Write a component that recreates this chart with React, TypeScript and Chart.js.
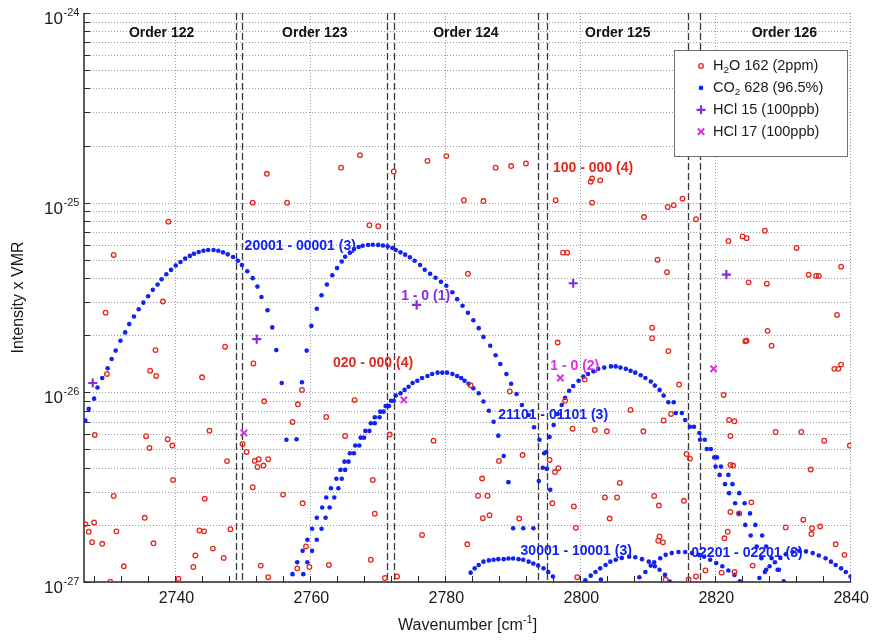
import React, { useEffect, useRef } from "react";
import { Chart, registerables } from "chart.js";

Chart.register(...registerables);

const FONT = '"Liberation Sans", Arial, Helvetica, sans-serif';
const RED = "#e4281e";
const BLUE = "#1222f2";
const PURPLE = "#8a2be2";
const MAGENTA = "#d92ee8";

// ---------- axis definitions ----------
const X_MIN = 2726.3;
const X_MAX = 2840;
const xMajorTicks = [2740, 2760, 2780, 2800, 2820, 2840];
const xMinorTicks = [2728, 2732, 2736, 2744, 2748, 2752, 2756, 2764, 2768, 2772, 2776, 2784, 2788, 2792, 2796, 2804, 2808, 2812, 2816, 2824, 2828, 2832, 2836];
const yDecadeExponents = [-27, -26, -25, -24];
const yMantissas = [1, 2, 3, 4, 5, 6, 7, 8, 9];

// ---------- H2O 162 (2 ppm) ----------
const h2oLines: [number, number][] = [
  [2753.4, 1.42e-25], [2751.3, 1.0e-25], [2756.4, 1.0e-25], [2738.8, 7.94e-26], [2730.7, 5.3e-26],
  [2738.0, 3.01e-26], [2729.5, 2.63e-26], [2736.9, 1.67e-26], [2747.2, 1.74e-26], [2764.4, 1.53e-25],
  [2767.2, 1.78e-25], [2772.2, 1.46e-25], [2777.2, 1.66e-25], [2780.0, 1.76e-25], [2787.3, 1.53e-25],
  [2789.6, 1.56e-25], [2791.8, 1.61e-25], [2782.6, 1.03e-25], [2785.5, 1.02e-25], [2768.6, 7.6e-26],
  [2769.9, 7.51e-26], [2783.2, 4.22e-26], [2796.2, 1.03e-25], [2801.4, 1.29e-25], [2801.6, 1.34e-25],
  [2801.6, 1.0e-25], [2797.3, 5.45e-26], [2797.9, 5.45e-26], [2796.5, 1.83e-26],
  [2802.8, 1.31e-25], [2815.0, 1.05e-25], [2813.7, 9.69e-26], [2812.8, 9.49e-26], [2809.3, 8.4e-26],
  [2817.0, 8.18e-26], [2827.2, 7.11e-26], [2823.9, 6.64e-26], [2824.5, 6.5e-26], [2821.8, 6.28e-26],
  [2831.9, 5.77e-26], [2811.3, 5.0e-26], [2838.5, 4.6e-26], [2812.7, 4.3e-26], [2833.7, 4.17e-26],
  [2834.8, 4.11e-26], [2835.2, 4.11e-26], [2824.8, 3.8e-26], [2827.5, 3.74e-26], [2837.9, 2.56e-26],
  [2810.5, 2.19e-26], [2810.5, 1.93e-26], [2827.6, 2.11e-26], [2824.3, 1.86e-26], [2824.5, 1.87e-26],
  [2828.2, 1.76e-26], [2812.9, 1.65e-26],
  [2736.1, 1.3e-26], [2737.0, 1.22e-26], [2729.7, 1.25e-26], [2743.8, 1.2e-26], [2751.4, 1.42e-26],
  [2753.0, 8.97e-27], [2758.6, 1.03e-26], [2758.0, 8.65e-27], [2762.2, 7.42e-27], [2757.2, 6.98e-27],
  [2727.9, 5.96e-27], [2735.5, 5.87e-27], [2738.7, 5.66e-27], [2736.0, 5.09e-27], [2739.4, 5.24e-27],
  [2744.9, 6.28e-27], [2749.8, 5.34e-27], [2750.4, 4.85e-27], [2751.6, 4.35e-27], [2752.2, 4.44e-27],
  [2752.0, 4.04e-27], [2752.9, 4.11e-27], [2753.6, 4.44e-27], [2747.5, 4.34e-27], [2739.5, 3.45e-27],
  [2751.3, 3.16e-27], [2755.8, 2.89e-27], [2758.7, 2.6e-27], [2730.7, 2.84e-27], [2744.2, 2.75e-27],
  [2726.5, 2.02e-27], [2727.8, 2.06e-27], [2735.3, 2.18e-27], [2727.0, 1.84e-27], [2731.1, 1.85e-27],
  [2743.4, 1.87e-27], [2744.1, 1.85e-27], [2748.0, 1.9e-27], [2727.5, 1.62e-27], [2729.0, 1.59e-27],
  [2736.6, 1.6e-27], [2745.4, 1.5e-27], [2742.8, 1.38e-27], [2747.0, 1.34e-27], [2759.2, 1.54e-27],
  [2732.2, 1.21e-27], [2742.5, 1.2e-27], [2752.5, 1.22e-27], [2757.9, 1.18e-27], [2759.7, 1.2e-27],
  [2762.6, 1.23e-27], [2753.6, 1.06e-27], [2740.3, 1.04e-27], [2730.2, 1.005e-27],
  [2766.4, 9.1e-27], [2765.0, 5.89e-27], [2771.6, 5.99e-27], [2778.1, 5.56e-27], [2769.1, 3.45e-27],
  [2769.4, 2.29e-27], [2776.4, 1.77e-27], [2768.8, 1.31e-27], [2770.9, 1.05e-27], [2772.7, 1.07e-27],
  [2783.6, 1.09e-26], [2789.4, 1.01e-26], [2787.8, 4.35e-27], [2791.3, 4.67e-27], [2785.3, 3.51e-27],
  [2784.7, 2.85e-27], [2786.1, 2.85e-27], [2785.4, 2.17e-27], [2786.4, 2.25e-27], [2790.8, 2.16e-27],
  [2783.1, 1.58e-27], [2800.5, 1.17e-26], [2797.6, 9.03e-27], [2798.7, 6.43e-27], [2802.0, 6.33e-27],
  [2795.3, 4.4e-27], [2796.6, 3.98e-27], [2796.1, 3.8e-27], [2795.7, 2.6e-27], [2798.9, 2.5e-27],
  [2799.2, 1.93e-27], [2799.4, 1.06e-27],
  [2814.5, 1.1e-26], [2807.3, 8.08e-27], [2813.3, 7.69e-27], [2812.2, 7.11e-27], [2803.8, 6.23e-27],
  [2809.2, 6.23e-27], [2821.1, 9.69e-27], [2821.9, 7.15e-27], [2822.7, 7.04e-27], [2822.1, 5.89e-27],
  [2828.8, 6.18e-27], [2832.6, 6.18e-27], [2836.0, 5.56e-27], [2839.8, 5.24e-27], [2815.6, 4.73e-27],
  [2816.1, 4.47e-27], [2822.1, 4.14e-27], [2822.5, 4.11e-27], [2834.0, 3.92e-27], [2805.7, 3.33e-27],
  [2803.5, 2.79e-27], [2805.3, 2.79e-27], [2810.8, 2.84e-27], [2811.5, 2.53e-27], [2815.2, 2.68e-27],
  [2825.2, 2.63e-27], [2822.1, 2.34e-27], [2823.4, 2.3e-27], [2804.2, 2.16e-27], [2832.9, 2.13e-27],
  [2834.2, 1.92e-27], [2835.4, 1.96e-27], [2830.3, 1.94e-27], [2821.7, 1.84e-27], [2821.2, 1.7e-27],
  [2834.1, 1.79e-27], [2811.6, 1.74e-27], [2811.4, 1.65e-27], [2812.1, 1.62e-27], [2837.7, 1.58e-27],
  [2839.0, 1.39e-27], [2818.4, 1.15e-27], [2822.7, 1.13e-27], [2817.0, 1.07e-27], [2812.5, 1.03e-27],
  [2815.9, 1.03e-27], [2837.5, 1.33e-26], [2838.1, 1.33e-26], [2838.5, 1.4e-26], [2825.4, 1.22e-27],
  [2820.8, 1.12e-27],
];

// ---------- CO2 628 (96.5 %) bands ----------
const co2Band20001P: [number, number][] = [
  [2726.5, 7.1e-27], [2727.0, 8.18e-27], [2727.8, 9.26e-27], [2728.3, 1.06e-26], [2729.0, 1.19e-26],
  [2729.8, 1.34e-26], [2730.4, 1.5e-26], [2731.0, 1.66e-26], [2731.7, 1.87e-26], [2732.4, 2.07e-26],
  [2733.0, 2.29e-26], [2733.7, 2.51e-26], [2734.4, 2.74e-26], [2735.1, 2.97e-26], [2735.8, 3.21e-26],
  [2736.5, 3.47e-26], [2737.2, 3.7e-26], [2737.8, 3.95e-26], [2738.5, 4.19e-26], [2739.2, 4.42e-26],
  [2739.9, 4.66e-26], [2740.6, 4.87e-26], [2741.3, 5.07e-26], [2742.0, 5.24e-26], [2742.6, 5.38e-26],
  [2743.3, 5.49e-26], [2744.0, 5.58e-26], [2744.7, 5.63e-26], [2745.5, 5.63e-26], [2746.2, 5.58e-26],
  [2746.9, 5.47e-26], [2747.6, 5.34e-26], [2748.4, 5.17e-26], [2749.1, 4.94e-26], [2749.7, 4.69e-26],
  [2750.5, 4.35e-26], [2751.3, 4.0e-26], [2752.0, 3.61e-26], [2752.6, 3.18e-26], [2753.5, 2.71e-26],
  [2754.2, 2.2e-26], [2754.8, 1.67e-26], [2755.6, 1.12e-26], [2756.3, 5.62e-27], [2757.2, 1.1e-27],
];
const co2Band20001R: [number, number][] = [
  [2757.8, 5.66e-27], [2758.6, 1.13e-26], [2759.3, 1.66e-26], [2760.0, 2.24e-26], [2760.8, 2.76e-26],
  [2761.5, 3.25e-26], [2762.3, 3.7e-26], [2763.1, 4.14e-26], [2763.8, 4.52e-26], [2764.5, 4.9e-26],
  [2765.0, 5.19e-26], [2765.7, 5.45e-26], [2766.3, 5.69e-26], [2767.0, 5.84e-26], [2767.6, 5.93e-26],
  [2768.4, 5.98e-26], [2769.1, 6.0e-26], [2769.9, 5.99e-26], [2770.6, 5.95e-26], [2771.3, 5.88e-26],
  [2772.0, 5.77e-26], [2772.5, 5.63e-26], [2773.2, 5.47e-26], [2773.9, 5.32e-26], [2774.6, 5.15e-26],
  [2775.3, 4.94e-26], [2776.1, 4.69e-26], [2776.8, 4.43e-26], [2777.6, 4.22e-26], [2778.4, 4.02e-26],
  [2779.2, 3.83e-26], [2780.0, 3.65e-26], [2780.9, 3.37e-26], [2781.6, 3.1e-26], [2782.4, 2.86e-26],
  [2783.2, 2.63e-26], [2784.0, 2.4e-26], [2784.8, 2.18e-26], [2785.5, 1.96e-26], [2786.5, 1.76e-26],
  [2787.3, 1.57e-26], [2788.0, 1.41e-26], [2788.9, 1.25e-26], [2789.6, 1.11e-26], [2790.4, 9.8e-27],
  [2791.2, 8.58e-27], [2792.2, 7.6e-27], [2793.0, 6.54e-27], [2793.8, 5.62e-27], [2794.5, 4.77e-27],
  [2794.9, 3.95e-27], [2795.4, 3.06e-27],
];
const co2Band020a: [number, number][] = [
  [2757.9, 1.27e-27], [2758.7, 1.46e-27], [2759.4, 1.67e-27], [2760.1, 1.91e-27], [2760.8, 2.18e-27],
  [2761.6, 2.47e-27], [2762.2, 2.79e-27], [2762.9, 3.12e-27], [2763.7, 3.5e-27], [2764.3, 3.9e-27],
  [2764.9, 4.31e-27], [2765.7, 4.77e-27], [2766.5, 5.24e-27], [2767.3, 5.77e-27], [2768.0, 6.26e-27],
  [2768.8, 6.87e-27], [2769.4, 7.39e-27], [2770.2, 7.91e-27], [2771.0, 8.46e-27], [2771.8, 9.03e-27],
];
const co2Band020b: [number, number][] = [
  [2758.8, 1.1e-27], [2759.4, 1.27e-27], [2760.1, 1.46e-27], [2760.8, 1.67e-27], [2761.5, 1.91e-27],
  [2762.1, 2.18e-27], [2762.7, 2.47e-27], [2763.4, 2.79e-27], [2764.0, 3.12e-27], [2764.5, 3.5e-27],
  [2765.0, 3.9e-27], [2765.5, 4.31e-27], [2766.3, 4.77e-27], [2767.1, 5.24e-27], [2767.8, 5.77e-27],
  [2768.6, 6.26e-27], [2769.4, 6.87e-27], [2770.1, 7.39e-27], [2770.7, 7.91e-27], [2771.5, 8.46e-27],
  [2772.2, 9.03e-27],
];
const co2Band020c: [number, number][] = [
  [2772.5, 9.61e-27], [2773.2, 9.89e-27], [2773.8, 1.03e-26], [2774.4, 1.07e-26], [2775.0, 1.12e-26],
  [2775.7, 1.15e-26], [2776.4, 1.19e-26], [2777.2, 1.22e-26], [2777.9, 1.25e-26], [2778.7, 1.27e-26],
  [2779.4, 1.27e-26], [2780.1, 1.27e-26], [2780.9, 1.25e-26], [2781.6, 1.22e-26], [2782.2, 1.19e-26],
  [2782.7, 1.15e-26], [2783.3, 1.11e-26], [2784.0, 1.05e-26], [2784.8, 9.89e-27], [2785.5, 8.94e-27],
  [2786.3, 8.0e-27], [2787.0, 7.0e-27], [2787.7, 5.91e-27], [2788.5, 4.62e-27], [2789.2, 3.36e-27],
  [2789.9, 1.92e-27], [2791.4, 1.92e-27], [2792.9, 1.92e-27], [2793.7, 3.41e-27],
];
const co2Band21101: [number, number][] = [
  [2794.3, 4.0e-27], [2794.8, 4.85e-27], [2795.3, 5.82e-27], [2795.9, 6.72e-27], [2796.5, 7.69e-27],
  [2797.1, 8.58e-27], [2797.6, 9.35e-27], [2798.2, 1.02e-26], [2798.8, 1.08e-26], [2799.6, 1.15e-26],
  [2800.3, 1.21e-26], [2801.0, 1.25e-26], [2801.8, 1.29e-26], [2802.5, 1.33e-26], [2803.4, 1.35e-26],
  [2804.4, 1.37e-26], [2805.1, 1.37e-26], [2805.8, 1.35e-26], [2806.6, 1.33e-26], [2807.3, 1.3e-26],
  [2808.0, 1.27e-26], [2808.8, 1.23e-26], [2809.5, 1.19e-26], [2810.3, 1.14e-26], [2810.9, 1.085e-26],
  [2811.6, 1.03e-26], [2812.2, 9.61e-27],
  [2812.9, 8.86e-27], [2813.7, 8.86e-27], [2814.0, 7.78e-27], [2814.9, 7.78e-27], [2815.4, 7.15e-27],
  [2816.1, 6.59e-27], [2816.7, 6.59e-27], [2817.5, 6.1e-27], [2817.6, 5.62e-27], [2818.3, 5.62e-27],
  [2818.6, 5.03e-27], [2819.2, 5.03e-27], [2819.7, 4.54e-27], [2820.1, 4.54e-27], [2819.9, 4.06e-27],
  [2820.7, 4.06e-27], [2820.5, 3.67e-27], [2821.8, 3.67e-27], [2821.3, 3.28e-27], [2822.4, 3.28e-27],
  [2821.9, 2.94e-27], [2823.4, 2.94e-27], [2822.8, 2.6e-27], [2824.2, 2.6e-27], [2823.3, 2.3e-27],
  [2825.0, 2.3e-27], [2824.3, 2.0e-27], [2825.8, 2.0e-27], [2825.1, 1.76e-27], [2826.8, 1.76e-27],
  [2826.0, 1.54e-27], [2827.4, 1.54e-27], [2826.7, 1.335e-27], [2828.2, 1.335e-27], [2827.4, 1.16e-27],
  [2829.1, 1.16e-27],
];
const co2Band30001: [number, number][] = [
  [2783.6, 1.12e-27], [2784.2, 1.18e-27], [2784.8, 1.23e-27], [2785.5, 1.28e-27], [2786.3, 1.3e-27],
  [2787.0, 1.31e-27], [2787.7, 1.32e-27], [2788.5, 1.32e-27], [2789.2, 1.33e-27], [2789.9, 1.33e-27],
  [2790.7, 1.32e-27], [2791.4, 1.31e-27], [2792.2, 1.28e-27], [2792.9, 1.25e-27], [2793.6, 1.22e-27],
  [2794.4, 1.18e-27], [2795.1, 1.13e-27], [2795.8, 1.07e-27],
];
const co2Band02201: [number, number][] = [
  [2800.6, 1.02e-27], [2801.4, 1.08e-27], [2802.1, 1.13e-27], [2802.8, 1.18e-27], [2803.6, 1.23e-27],
  [2804.3, 1.28e-27], [2805.1, 1.31e-27], [2806.0, 1.34e-27], [2807.1, 1.36e-27], [2808.0, 1.35e-27],
  [2809.0, 1.32e-27], [2810.0, 1.28e-27], [2810.9, 1.21e-27], [2811.6, 1.16e-27], [2812.4, 1.09e-27],
  [2813.1, 1.005e-27], [2802.9, 1.03e-27],
  [2808.6, 1.06e-27], [2809.5, 1.13e-27], [2810.3, 1.22e-27], [2810.8, 1.27e-27], [2811.7, 1.335e-27],
  [2812.5, 1.39e-27], [2813.4, 1.42e-27], [2814.4, 1.44e-27], [2815.4, 1.44e-27], [2816.4, 1.42e-27],
  [2817.4, 1.39e-27], [2818.2, 1.36e-27], [2819.1, 1.31e-27], [2820.0, 1.26e-27], [2820.9, 1.21e-27],
  [2821.8, 1.15e-27], [2822.7, 1.09e-27], [2823.5, 1.01e-27],
  [2826.4, 1.05e-27], [2827.2, 1.13e-27], [2827.9, 1.21e-27], [2828.7, 1.27e-27], [2829.5, 1.34e-27],
  [2830.3, 1.4e-27], [2831.3, 1.44e-27], [2832.3, 1.46e-27], [2833.3, 1.45e-27], [2834.3, 1.42e-27],
  [2835.2, 1.38e-27], [2836.2, 1.335e-27], [2837.0, 1.28e-27], [2837.7, 1.23e-27], [2838.5, 1.18e-27],
  [2839.2, 1.13e-27], [2839.9, 1.07e-27], [2829.3, 1.16e-27], [2830.0, 1.01e-27],
];

// ---------- HCl ----------
const hcl15Lines: [number, number][] = [
  [2727.6, 1.12e-26], [2751.9, 1.91e-26], [2775.6, 2.89e-26], [2798.8, 3.76e-26], [2821.5, 4.17e-26],
];
const hcl17Lines: [number, number][] = [
  [2750.0, 6.11e-27], [2773.7, 9.12e-27], [2796.9, 1.19e-26], [2819.6, 1.33e-26],
];

// ---------- echelle orders ----------
const orderBoundaries: [number, number][] = [
  [2748.8, 2749.75], [2771.2, 2772.3], [2793.6, 2794.95], [2815.8, 2817.6],
];
const orderNames = ["Order 122", "Order 123", "Order 124", "Order 125", "Order 126"];
const orderCenters = [2737.8, 2760.5, 2782.9, 2805.4, 2830.1];

// ---------- band annotations ----------
const bandLabels = ["20001 - 00001 (3)", "1 - 0 (1)", "020 - 000 (4)", "21101 - 01101 (3)", "1 - 0 (2)", "100 - 000 (4)", "30001 - 10001 (3)", "02201 - 02201 (3)"];
const bandLabelWn = [2750.1, 2773.3, 2763.2, 2787.7, 2795.4, 2795.8, 2791.0, 2816.3];
const bandLabelVal = [5.91e-26, 3.2e-26, 1.42e-26, 7.6e-27, 1.38e-26, 1.52e-25, 1.45e-27, 1.42e-27];
const bandLabelColors = [BLUE, PURPLE, RED, BLUE, MAGENTA, RED, BLUE, BLUE];

const toXY = (arr: [number, number][]) => arr.map(([x, y]) => ({ x, y }));

const yTickValues: number[] = [];
yDecadeExponents.forEach((e) => {
  yMantissas.forEach((m) => {
    if (e < -24 || m === 1) yTickValues.push(m * Math.pow(10, e));
  });
});

function drawLegendMarker(ctx: CanvasRenderingContext2D, kind: string, x: number, y: number) {
  ctx.save();
  if (kind === "h2o") {
    ctx.strokeStyle = RED; ctx.lineWidth = 1.3;
    ctx.beginPath(); ctx.arc(x, y, 2.3, 0, Math.PI * 2); ctx.stroke();
  } else if (kind === "co2") {
    ctx.fillStyle = BLUE;
    ctx.beginPath(); ctx.arc(x, y, 2.3, 0, Math.PI * 2); ctx.fill();
  } else if (kind === "hcl15") {
    ctx.strokeStyle = PURPLE; ctx.lineWidth = 2.2;
    ctx.beginPath(); ctx.moveTo(x - 4.5, y); ctx.lineTo(x + 4.5, y); ctx.moveTo(x, y - 4.5); ctx.lineTo(x, y + 4.5); ctx.stroke();
  } else {
    ctx.strokeStyle = MAGENTA; ctx.lineWidth = 2;
    const r = 3.2;
    ctx.beginPath(); ctx.moveTo(x - r, y - r); ctx.lineTo(x + r, y + r); ctx.moveTo(x - r, y + r); ctx.lineTo(x + r, y - r); ctx.stroke();
  }
  ctx.restore();
}

function drawSubText(ctx: CanvasRenderingContext2D, parts: [string, boolean][], x: number, y: number, size: number) {
  let cx = x;
  parts.forEach(([t, sub]) => {
    ctx.font = `${sub ? size * 0.68 : size}px ${FONT}`;
    ctx.fillText(t, cx, sub ? y + 4 : y);
    cx += ctx.measureText(t).width;
  });
}

const decorPlugin = {
  id: "decor",
  beforeDatasetsDraw(chart: any) {
    const { ctx, chartArea: a } = chart;
    const xs = chart.scales.x;
    const ys = chart.scales.y;
    ctx.save();
    // dotted grid
    ctx.strokeStyle = "#9b9b9b";
    ctx.lineWidth = 1;
    ctx.setLineDash([1, 2]);
    ctx.beginPath();
    yTickValues.forEach((v) => {
      const py = Math.round(ys.getPixelForValue(v)) + 0.5;
      ctx.moveTo(a.left, py); ctx.lineTo(a.right, py);
    });
    xMajorTicks.forEach((v) => {
      const px = Math.round(xs.getPixelForValue(v)) - 0.5;
      ctx.moveTo(px, a.top); ctx.lineTo(px, a.bottom);
    });
    ctx.stroke();
    // order boundaries
    ctx.setLineDash([7, 3]);
    ctx.strokeStyle = "#3a3a3a";
    ctx.lineWidth = 1.3;
    ctx.beginPath();
    orderBoundaries.forEach((pair) => pair.forEach((v) => {
      const px = Math.round(xs.getPixelForValue(v)) + 0.5;
      ctx.moveTo(px, a.top); ctx.lineTo(px, a.bottom);
    }));
    ctx.stroke();
    // axes
    ctx.setLineDash([]);
    ctx.strokeStyle = "#2a2a2a";
    ctx.lineWidth = 1.5;
    ctx.beginPath();
    ctx.moveTo(a.left, a.top); ctx.lineTo(a.left, a.bottom); ctx.lineTo(a.right, a.bottom);
    ctx.stroke();
    // inward tick marks
    ctx.lineWidth = 1;
    ctx.beginPath();
    [...xMajorTicks, ...xMinorTicks].forEach((v) => {
      const px = Math.round(xs.getPixelForValue(v)) - 0.5;
      ctx.moveTo(px, a.bottom); ctx.lineTo(px, a.bottom - 6);
    });
    yTickValues.forEach((v) => {
      const py = Math.round(ys.getPixelForValue(v)) + 0.5;
      ctx.moveTo(a.left, py); ctx.lineTo(a.left + 6, py);
    });
    ctx.stroke();
    ctx.restore();
  },
  afterDatasetsDraw(chart: any) {
    const { ctx, chartArea: a } = chart;
    const xs = chart.scales.x;
    const ys = chart.scales.y;
    ctx.save();
    // order names
    ctx.fillStyle = "#111";
    ctx.font = `bold 14px ${FONT}`;
    ctx.textAlign = "center";
    ctx.textBaseline = "middle";
    orderNames.forEach((t, i) => ctx.fillText(t, xs.getPixelForValue(orderCenters[i]), a.top + 20));
    // band labels
    ctx.textAlign = "left";
    ctx.font = `bold 14px ${FONT}`;
    bandLabels.forEach((t, i) => {
      ctx.fillStyle = bandLabelColors[i];
      ctx.fillText(t, xs.getPixelForValue(bandLabelWn[i]), ys.getPixelForValue(bandLabelVal[i]));
    });
    // legend
    const lx = 674, ly = 50, lw = 173, lh = 106;
    ctx.fillStyle = "#fff";
    ctx.fillRect(lx, ly, lw, lh);
    ctx.strokeStyle = "#6f6f6f";
    ctx.lineWidth = 1;
    ctx.strokeRect(lx + 0.5, ly + 0.5, lw, lh);
    const rows: { kind: string; parts: [string, boolean][] }[] = [
      { kind: "h2o", parts: [["H", false], ["2", true], ["O 162 (2ppm)", false]] },
      { kind: "co2", parts: [["CO", false], ["2", true], [" 628 (96.5%)", false]] },
      { kind: "hcl15", parts: [["HCl 15 (100ppb)", false]] },
      { kind: "hcl17", parts: [["HCl 17 (100ppb)", false]] },
    ];
    ctx.textBaseline = "middle";
    ctx.textAlign = "left";
    rows.forEach((r, i) => {
      const ry = ly + 16 + i * 21.9;
      drawLegendMarker(ctx, r.kind, lx + 27, ry);
      ctx.fillStyle = "#1a1a1a";
      drawSubText(ctx, r.parts, lx + 39, ry, 14.5);
    });
    // y decade labels
    ctx.fillStyle = "#1a1a1a";
    ctx.textBaseline = "alphabetic";
    yDecadeExponents.forEach((e) => {
      const py = ys.getPixelForValue(Math.pow(10, e));
      ctx.font = `17px ${FONT}`;
      ctx.textAlign = "right";
      ctx.fillText("10", 63, py + 11);
      ctx.font = `11px ${FONT}`;
      ctx.textAlign = "left";
      ctx.fillText(String(e), 63.5, py + 3);
    });
    // axis titles
    ctx.font = `16px ${FONT}`;
    ctx.textAlign = "left";
    const main = "Wavenumber [cm";
    ctx.font = `16px ${FONT}`;
    const w1 = ctx.measureText(main).width;
    ctx.font = `11px ${FONT}`;
    const w2 = ctx.measureText("-1").width;
    ctx.font = `16px ${FONT}`;
    const w3 = ctx.measureText("]").width;
    const total = w1 + w2 + w3;
    const cx = (a.left + a.right) / 2 - total / 2;
    const ty = 630;
    ctx.fillText(main, cx, ty);
    ctx.font = `11px ${FONT}`;
    ctx.fillText("-1", cx + w1, ty - 7);
    ctx.font = `16px ${FONT}`;
    ctx.fillText("]", cx + w1 + w2, ty);
    ctx.save();
    ctx.translate(23, (a.top + a.bottom) / 2);
    ctx.rotate(-Math.PI / 2);
    ctx.textAlign = "center";
    ctx.fillText("Intensity x VMR", 0, 0);
    ctx.restore();
    ctx.restore();
  },
};

export default function App() {
  const ref = useRef<HTMLCanvasElement>(null);
  useEffect(() => {
    document.body.style.margin = "0";
    const co2All = [
      ...co2Band20001P, ...co2Band20001R, ...co2Band020a, ...co2Band020b, ...co2Band020c,
      ...co2Band21101, ...co2Band30001, ...co2Band02201,
    ];
    const chart = new Chart(ref.current as HTMLCanvasElement, {
      type: "scatter",
      data: {
        datasets: [
          {
            label: "HCl 17 (100ppb)", data: toXY(hcl17Lines), order: 0,
            pointStyle: "crossRot", pointRadius: 4.5, borderWidth: 2, borderColor: MAGENTA, backgroundColor: MAGENTA,
          },
          {
            label: "HCl 15 (100ppb)", data: toXY(hcl15Lines), order: 0,
            pointStyle: "cross", pointRadius: 4.6, borderWidth: 2.2, borderColor: PURPLE, backgroundColor: PURPLE,
          },
          {
            label: "H2O 162 (2ppm)", data: toXY(h2oLines), order: 1,
            pointStyle: "circle", pointRadius: 2.3, borderWidth: 1.3, borderColor: RED, backgroundColor: "rgba(255,255,255,0)",
          },
          {
            label: "CO2 628 (96.5%)", data: toXY(co2All), order: 2,
            pointStyle: "circle", pointRadius: 2.3, borderWidth: 0, backgroundColor: BLUE, borderColor: BLUE,
          },
        ],
      },
      options: {
        responsive: false,
        animation: false,
        devicePixelRatio: 1,
        events: [],
        layout: { padding: { top: 13, right: 18, left: 0, bottom: 0 } },
        plugins: { legend: { display: false }, tooltip: { enabled: false } },
        scales: {
          x: {
            type: "linear", min: X_MIN, max: X_MAX,
            grid: { display: false, drawTicks: false },
            border: { display: false },
            afterBuildTicks: (s: any) => { s.ticks = xMajorTicks.map((v) => ({ value: v })); },
            afterFit: (s: any) => { s.height = 61; },
            ticks: {
              autoSkip: false, maxRotation: 0, padding: 7, color: "#1a1a1a",
              font: { family: FONT, size: 16 },
              callback: (v: any) => String(v),
            },
          },
          y: {
            type: "logarithmic", min: 1e-27, max: 1e-24,
            grid: { display: false, drawTicks: false },
            border: { display: false },
            ticks: { display: false },
            afterBuildTicks: (s: any) => { s.ticks = yTickValues.map((v) => ({ value: v })); },
            afterFit: (s: any) => { s.width = 84; },
          },
        },
      },
      plugins: [decorPlugin],
    } as any);
    return () => chart.destroy();
  }, []);
  return (
    <div style={{ width: 876, height: 643, background: "#fff" }}>
      <canvas ref={ref} width={876} height={643} style={{ display: "block" }} />
    </div>
  );
}
